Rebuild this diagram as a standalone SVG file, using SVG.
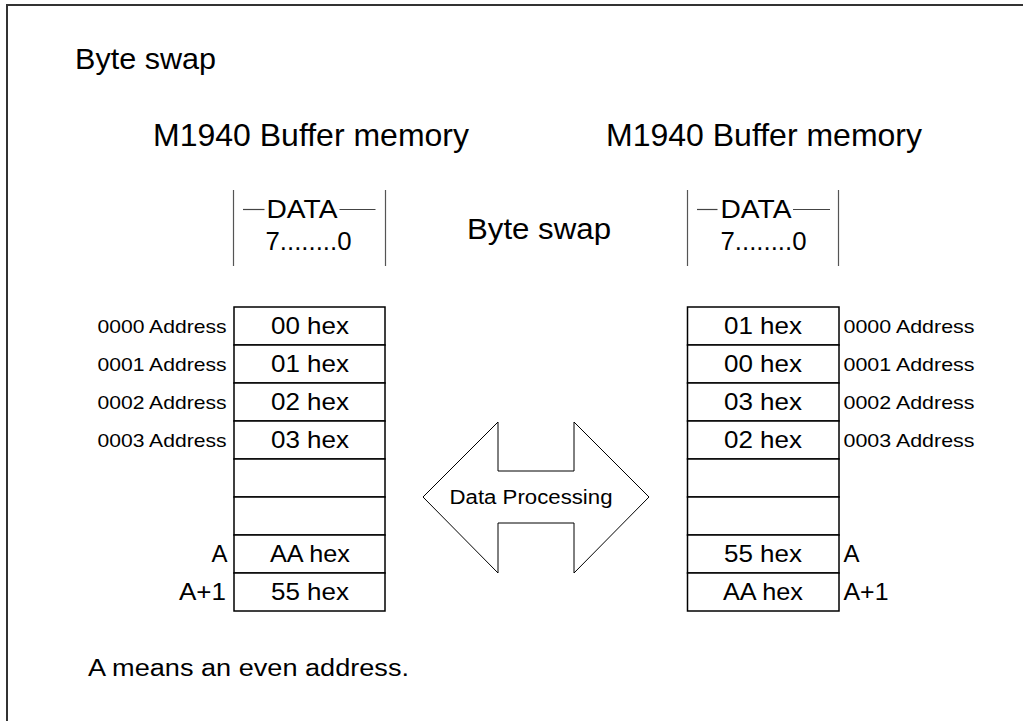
<svg xmlns="http://www.w3.org/2000/svg" width="1023" height="721" viewBox="0 0 1023 721">
<style>
text{font-family:"Liberation Sans",Arial,sans-serif;fill:#000}
.cell{fill:#fff;stroke:#000;stroke-width:1.5}
.ct{font-size:24px;text-anchor:middle}
.lab{font-size:19px}
.bar{stroke:#555;stroke-width:1.2}
.dash{stroke:#444;stroke-width:1.2}
</style>
<rect width="1023" height="721" fill="#fff"/>
<path d="M7,721 V5 H1023" fill="none" stroke="#333" stroke-width="2"/>
<g id="title"><text x="75" y="69" font-size="29" textLength="141" lengthAdjust="spacingAndGlyphs">Byte swap</text></g>
<g id="left-header">
<text x="153" y="146" font-size="31.5" textLength="316" lengthAdjust="spacingAndGlyphs">M1940 Buffer memory</text>
<line class="bar" x1="233.5" y1="190" x2="233.5" y2="266"/>
<line class="bar" x1="385.5" y1="190" x2="385.5" y2="266"/>
<line class="dash" x1="243" y1="209.5" x2="264.5" y2="209.5"/>
<line class="dash" x1="339.5" y1="209.5" x2="375.5" y2="209.5"/>
<text x="266.5" y="218" font-size="26" textLength="71" lengthAdjust="spacingAndGlyphs">DATA</text>
<text x="265.5" y="250" font-size="25" textLength="86" lengthAdjust="spacingAndGlyphs">7........0</text>
</g>
<g id="right-header">
<text x="606" y="146" font-size="31.5" textLength="316" lengthAdjust="spacingAndGlyphs">M1940 Buffer memory</text>
<line class="bar" x1="687.5" y1="190" x2="687.5" y2="266"/>
<line class="bar" x1="838.5" y1="190" x2="838.5" y2="266"/>
<line class="dash" x1="697" y1="209.5" x2="717.5" y2="209.5"/>
<line class="dash" x1="793" y1="209.5" x2="830" y2="209.5"/>
<text x="720.5" y="218" font-size="26" textLength="71" lengthAdjust="spacingAndGlyphs">DATA</text>
<text x="720.5" y="250" font-size="25" textLength="86" lengthAdjust="spacingAndGlyphs">7........0</text>
</g>
<g id="mid-label"><text x="467" y="239" font-size="29" textLength="144" lengthAdjust="spacingAndGlyphs">Byte swap</text></g>
<g id="left-table">
<rect class="cell" x="234" y="307" width="151" height="38"/>
<rect class="cell" x="234" y="345" width="151" height="38"/>
<rect class="cell" x="234" y="383" width="151" height="38"/>
<rect class="cell" x="234" y="421" width="151" height="38"/>
<rect class="cell" x="234" y="459" width="151" height="38"/>
<rect class="cell" x="234" y="497" width="151" height="38"/>
<rect class="cell" x="234" y="535" width="151" height="38"/>
<rect class="cell" x="234" y="573" width="151" height="38"/>
<text class="ct" x="310" y="334" textLength="78" lengthAdjust="spacingAndGlyphs">00 hex</text>
<text class="ct" x="310" y="372" textLength="78" lengthAdjust="spacingAndGlyphs">01 hex</text>
<text class="ct" x="310" y="410" textLength="78" lengthAdjust="spacingAndGlyphs">02 hex</text>
<text class="ct" x="310" y="448" textLength="78" lengthAdjust="spacingAndGlyphs">03 hex</text>
<text class="ct" x="310" y="562" textLength="80" lengthAdjust="spacingAndGlyphs">AA hex</text>
<text class="ct" x="310" y="600" textLength="78" lengthAdjust="spacingAndGlyphs">55 hex</text>
</g>
<g id="left-labels" text-anchor="end">
<text class="lab" x="226.5" y="333" textLength="129" lengthAdjust="spacingAndGlyphs">0000 Address</text>
<text class="lab" x="226.5" y="371" textLength="129" lengthAdjust="spacingAndGlyphs">0001 Address</text>
<text class="lab" x="226.5" y="409" textLength="129" lengthAdjust="spacingAndGlyphs">0002 Address</text>
<text class="lab" x="226.5" y="447" textLength="129" lengthAdjust="spacingAndGlyphs">0003 Address</text>
<text x="227.5" y="562" font-size="24" textLength="16" lengthAdjust="spacingAndGlyphs">A</text>
<text x="226" y="600" font-size="24" textLength="47" lengthAdjust="spacingAndGlyphs">A+1</text>
</g>
<g id="right-table">
<rect class="cell" x="687.5" y="307" width="151.5" height="38"/>
<rect class="cell" x="687.5" y="345" width="151.5" height="38"/>
<rect class="cell" x="687.5" y="383" width="151.5" height="38"/>
<rect class="cell" x="687.5" y="421" width="151.5" height="38"/>
<rect class="cell" x="687.5" y="459" width="151.5" height="38"/>
<rect class="cell" x="687.5" y="497" width="151.5" height="38"/>
<rect class="cell" x="687.5" y="535" width="151.5" height="38"/>
<rect class="cell" x="687.5" y="573" width="151.5" height="38"/>
<text class="ct" x="763" y="334" textLength="78" lengthAdjust="spacingAndGlyphs">01 hex</text>
<text class="ct" x="763" y="372" textLength="78" lengthAdjust="spacingAndGlyphs">00 hex</text>
<text class="ct" x="763" y="410" textLength="78" lengthAdjust="spacingAndGlyphs">03 hex</text>
<text class="ct" x="763" y="448" textLength="78" lengthAdjust="spacingAndGlyphs">02 hex</text>
<text class="ct" x="763" y="562" textLength="78" lengthAdjust="spacingAndGlyphs">55 hex</text>
<text class="ct" x="763" y="600" textLength="80" lengthAdjust="spacingAndGlyphs">AA hex</text>
</g>
<g id="right-labels">
<text class="lab" x="843.5" y="333" textLength="131" lengthAdjust="spacingAndGlyphs">0000 Address</text>
<text class="lab" x="843.5" y="371" textLength="131" lengthAdjust="spacingAndGlyphs">0001 Address</text>
<text class="lab" x="843.5" y="409" textLength="131" lengthAdjust="spacingAndGlyphs">0002 Address</text>
<text class="lab" x="843.5" y="447" textLength="131" lengthAdjust="spacingAndGlyphs">0003 Address</text>
<text x="843.5" y="562" font-size="24" textLength="16" lengthAdjust="spacingAndGlyphs">A</text>
<text x="843.5" y="600" font-size="24" textLength="45" lengthAdjust="spacingAndGlyphs">A+1</text>
</g>
<g id="connectors">
<g id="data-processing">
<polygon points="423,497 498,422 498,471 574,471 574,422 649,497 574,573 574,523 498,523 498,573" fill="#fff" stroke="#000" stroke-width="1"/>
<text x="449.5" y="504" font-size="20" textLength="163" lengthAdjust="spacingAndGlyphs">Data Processing</text>
</g>
</g>
<g id="note"><text x="88" y="676" font-size="23" textLength="321" lengthAdjust="spacingAndGlyphs">A means an even address.</text></g>
</svg>
